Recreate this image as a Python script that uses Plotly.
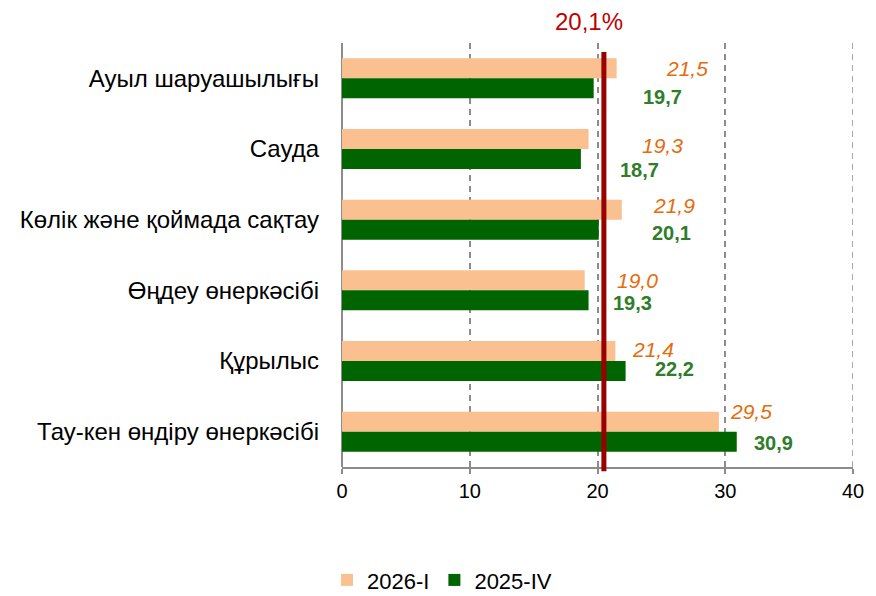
import plotly.graph_objects as go

categories = ["Ауыл шаруашылығы", "Сауда", "Көлік және қоймада сақтау",
              "Өңдеу өнеркәсібі", "Құрылыс", "Тау-кен өндіру өнеркәсібі"]
series_2026_I = [21.5, 19.3, 21.9, 19.0, 21.4, 29.5]
series_2025_IV = [19.7, 18.7, 20.1, 19.3, 22.2, 30.9]
series_names = ["2026-I", "2025-IV"]
ref_value = 20.5
ref_label = "20,1%"
x_ticks = [0, 10, 20, 30, 40]

# label placement tweaks (pixels)
orange_dx = [70, 74, 52, 53, 38, 32]
orange_dy = [10, 4, 14, 10, 12, 20]
green_dx = [69, 59, 73, 44, 49, 37]
green_dy = [-19, -21, -13, -13, -8, -11]

FONT = "Liberation Sans, Arial, sans-serif"
GRID = "#8C8C8C"

def fmt(v):
    return f"{v:.1f}".replace(".", ",")

fig = go.Figure()
fig.add_trace(go.Bar(y=categories, x=series_2026_I, orientation="h", name=series_names[0],
                     marker=dict(color="#FAC090", line=dict(width=0))))
fig.add_trace(go.Bar(y=categories, x=series_2025_IV, orientation="h", name=series_names[1],
                     marker=dict(color="#006400", line=dict(width=0))))

annotations = []
for i, c in enumerate(categories):
    annotations.append(dict(x=series_2026_I[i], y=c, xref="x", yref="y", text=fmt(series_2026_I[i]),
                            showarrow=False, xshift=orange_dx[i], yshift=orange_dy[i],
                            xanchor="center", yanchor="middle",
                            font=dict(family=FONT, size=21, color="#E46C0A", style="italic")))
    annotations.append(dict(x=series_2025_IV[i], y=c, xref="x", yref="y", text=f"<b>{fmt(series_2025_IV[i])}</b>",
                            showarrow=False, xshift=green_dx[i], yshift=green_dy[i],
                            xanchor="center", yanchor="middle",
                            font=dict(family=FONT, size=20, color="#2F7D2A")))
annotations.append(dict(x=ref_value, y=1.05, xref="x", yref="paper", text=ref_label, showarrow=False,
                        xanchor="center", yanchor="middle",
                        xshift=-15, font=dict(family=FONT, size=24, color="#C00000")))

# gridline at the axis end (plotly omits it at the range edge)
fig.add_shape(type="line", x0=x_ticks[-1], x1=x_ticks[-1], xref="x", yref="paper", y0=0, y1=1,
              line=dict(color=GRID, width=1.5, dash="6px,5px"), layer="below")
fig.add_shape(type="line", x0=ref_value, x1=ref_value, xref="x", yref="paper", y0=-0.01, y1=0.979,
              line=dict(color="#990000", width=5), layer="above")

fig.update_layout(
    width=868, height=588,
    margin=dict(l=334, r=18, t=35, b=129),
    paper_bgcolor="white", plot_bgcolor="white",
    barmode="group", bargap=0.434, bargroupgap=0,
    font=dict(family=FONT, size=20, color="black"),
    showlegend=True,
    legend=dict(orientation="h", x=0.5, xref="container", xanchor="center",
                y=0.027, yref="container", yanchor="middle",
                font=dict(family=FONT, size=22), itemwidth=30, tracegroupgap=0),
    annotations=annotations,
    xaxis=dict(range=[0, 40], tickvals=x_ticks, ticktext=[str(t) for t in x_ticks],
               showgrid=True, gridcolor=GRID, gridwidth=1.5, griddash="6px,5px",
               zeroline=True, zerolinecolor=GRID, zerolinewidth=1.5,
               showline=True, linecolor=GRID, linewidth=1.5,
               ticks="outside", ticklen=5, tickcolor=GRID, tickwidth=1.5,
               tickfont=dict(family=FONT, size=20, color="black"), fixedrange=True),
    yaxis=dict(autorange="reversed", showgrid=False, showline=False, ticks="",
               ticklabelstandoff=22, tickfont=dict(family=FONT, size=24, color="black")),
)

fig.write_html("out.html")
